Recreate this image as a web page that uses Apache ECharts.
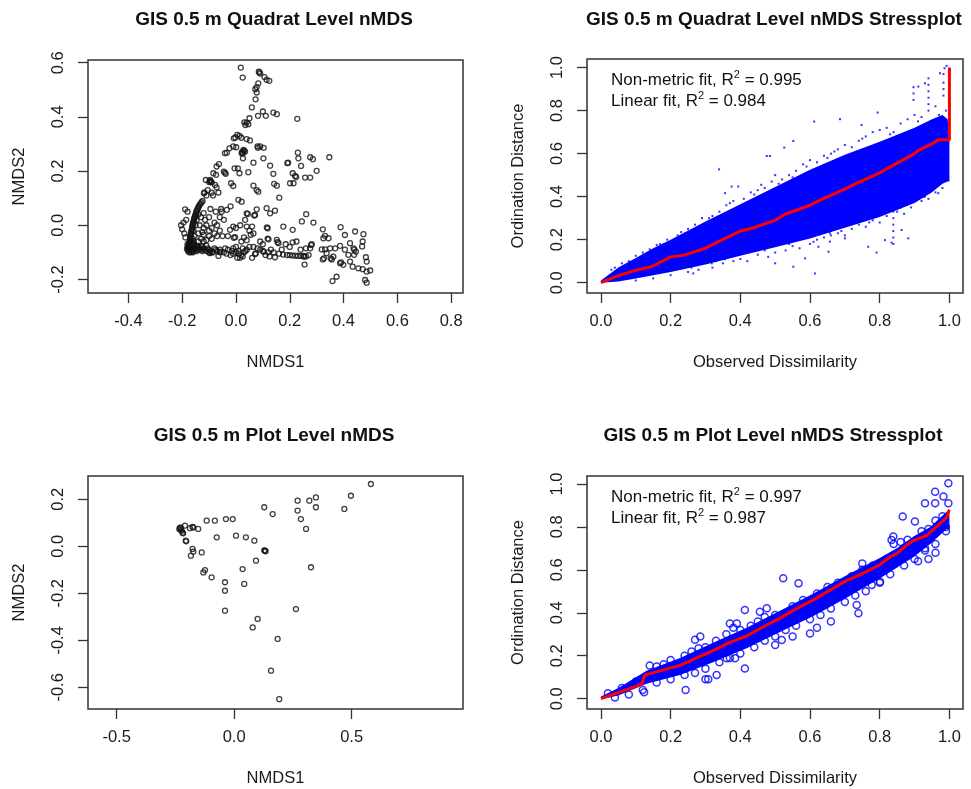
<!DOCTYPE html>
<html><head><meta charset="utf-8">
<script src="https://cdn.jsdelivr.net/npm/echarts@6/dist/echarts.min.js"></script>
<style>html,body{margin:0;padding:0;background:#fff}#c{width:971px;height:789px}</style>
</head><body><div id="c"></div>
<script>
// ---------- Titles / labels ----------
const titles = ["GIS 0.5 m Quadrat Level nMDS","GIS 0.5 m Quadrat Level nMDS Stressplot","GIS 0.5 m Plot Level nMDS","GIS 0.5 m Plot Level nMDS Stressplot"];
const fitQuadrat = ["0.995","0.984"];
const fitPlot = ["0.997","0.987"];

// ---------- Tick values ----------
const ticksX0 = [-0.4,-0.2,0,0.2,0.4,0.6,0.8];
const ticksY0 = [-0.2,0,0.2,0.4,0.6];
const ticksX2 = [-0.5,0,0.5];
const ticksY2 = [-0.6,-0.4,-0.2,0,0.2];
const ticksStress = [0,0.2,0.4,0.6,0.8,1.0];

// ---------- Panel 1: quadrat-level site scores (NMDS1, NMDS2) ----------
const quadratSites = [
[0.018,0.582],[0.025,0.545],[0.087,0.564],[0.09,0.56],[0.085,0.567],[0.106,0.547],[0.114,0.537],[0.124,0.533],[0.083,0.524],[0.077,0.510],[0.072,0.502],[0.077,0.490],[0.073,0.465],[0.059,0.435],[0.100,0.420],[0.111,0.404],[0.139,0.416],[0.152,0.410],[0.050,0.395],[0.040,0.379],[0.046,0.373],[0.031,0.380],[0.228,0.393],[0.082,0.404],[0.035,0.37],
[-0.002,0.324],[0.005,0.334],[0.013,0.330],[0.020,0.323],[0.040,0.318],[0.052,0.313],[-0.008,0.321],[0.080,0.291],[0.090,0.291],[0.034,0.272],[0.030,0.275],[0.026,0.266],[0.021,0.266],[0.028,0.278],[0.023,0.271],[-0.010,0.291],[-0.024,0.284],[-0.041,0.266],[-0.034,0.268],[0.001,0.288],[0.103,0.286],[0.082,0.286],[0.026,0.247],
[0.065,0.231],[0.102,0.247],[0.127,0.220],[0.139,0.190],[0.046,0.196],[0.007,0.210],[-0.005,0.210],[0.013,0.192],[-0.063,0.226],[-0.072,0.217],[-0.084,0.192],[-0.074,0.186],[-0.041,0.194],[-0.045,0.198],[-0.038,0.19],[0.191,0.229],[0.230,0.268],[0.232,0.247],[0.242,0.219],[0.276,0.251],[0.286,0.244],[0.300,0.201],[0.276,0.176],[0.257,0.176],[0.220,0.182],[0.224,0.178],[0.211,0.192],[0.214,0.155],[0.201,0.155],[0.347,0.251],[0.194,0.231],
[-0.096,0.167],[-0.099,0.159],[-0.112,0.167],[-0.093,0.161],[-0.097,0.163],[-0.090,0.158],[-0.119,0.118],[-0.117,0.121],[-0.078,0.149],[-0.072,0.140],[-0.065,0.121],[-0.018,0.155],[-0.010,0.145],[0.065,0.146],[0.077,0.130],[0.083,0.124],[0.142,0.153],[0.152,0.146],[0.161,0.102],[-0.105,0.13],[-0.11,0.11],[-0.09,0.12],[-0.085,0.11],
[-0.128,0.085],[-0.124,0.09],[-0.135,0.075],[-0.14,0.065],[-0.145,0.055],[-0.148,0.045],[-0.152,0.035],[-0.155,0.025],[-0.157,0.015],[-0.16,0.005],[-0.162,-0.005],[-0.164,-0.015],[-0.166,-0.025],[-0.168,-0.035],[-0.170,-0.045],[-0.171,-0.055],[-0.173,-0.065],[-0.175,-0.075],[-0.176,-0.085],[-0.172,-0.09],[-0.165,-0.085],[-0.16,-0.075],[-0.155,-0.07],[-0.15,-0.08],[-0.145,-0.075],[-0.17,-0.07],[-0.165,-0.06],[-0.16,-0.05],[-0.18,-0.08],[-0.178,-0.095],[-0.168,-0.1],[-0.158,-0.095],[-0.15,-0.09],[-0.158,-0.02],[-0.154,-0.04],[-0.15,0.0],[-0.146,0.02],[-0.14,0.04],
[-0.131,0.08],[-0.138,0.07],[-0.142,0.06],[-0.147,0.05],[-0.15,0.04],[-0.153,0.03],[-0.156,0.02],[-0.159,0.01],[-0.161,0.0],[-0.163,-0.01],[-0.165,-0.02],[-0.167,-0.03],[-0.169,-0.04],[-0.17,-0.05],[-0.172,-0.06],[-0.174,-0.07],[-0.176,-0.08],[-0.177,-0.09],[-0.168,-0.08],[-0.162,-0.065],[-0.158,-0.06],[-0.156,-0.085],[-0.163,-0.095],[-0.17,-0.085],[-0.174,-0.1],[-0.18,-0.07],[-0.182,-0.088],[-0.145,-0.095],[-0.14,-0.08],[-0.135,-0.085],[-0.125,-0.095],[-0.118,-0.09],[-0.105,-0.085],[-0.095,-0.095],[-0.085,-0.1],[-0.075,-0.09],[-0.045,-0.1],[-0.035,-0.105],[-0.01,-0.105],[0.01,-0.105],[0.035,-0.095],
[-0.204,0.0],[-0.2,-0.015],[-0.192,-0.03],[-0.189,0.059],[-0.18,0.05],[-0.185,0.02],[-0.195,0.01],[-0.188,-0.045],
[-0.13,0.03],[-0.12,0.045],[-0.115,0.02],[-0.1,0.03],[-0.11,0.0],[-0.12,-0.01],[-0.1,-0.02],[-0.09,-0.01],[-0.08,0.01],[-0.07,0.0],[-0.06,-0.02],[-0.08,-0.03],[-0.1,-0.04],[-0.12,-0.035],[-0.13,-0.05],[-0.11,-0.055],[-0.09,-0.05],[-0.07,-0.04],[-0.05,-0.04],[-0.03,-0.04],[-0.003,-0.044],[-0.008,-0.046],[-0.135,0.0],[-0.125,-0.025],[-0.14,-0.03],[-0.095,0.06],[-0.075,0.05],[-0.055,0.06],[-0.053,0.05],[-0.034,0.057],[-0.06,0.03],[-0.045,0.02],[0.009,0.094],[0.021,0.087],[-0.02,0.07],
[0.034,0.02],[0.04,0.044],[0.044,0.042],[0.071,0.038],[0.068,0.036],[0.077,0.059],[0.114,0.063],[0.127,0.044],[0.145,0.054],[0.118,-0.011],[0.115,-0.008],[0.176,-0.005],[0.152,-0.054],[0.121,-0.052],[0.118,-0.049],[0.158,-0.066],[0.155,-0.062],[0.211,-0.017],[0.211,-0.063],[0.245,0.014],[0.261,0.041],[0.288,0.01],[0.279,-0.073],[0.282,-0.07],[0.276,-0.085],[-0.022,-0.017],[-0.01,-0.005],[0.04,-0.005],[0.05,-0.02],[0.06,-0.005],[0.055,-0.035],[0.065,-0.03],[0.04,-0.055],[0.03,-0.045],[0.02,-0.06],[0.025,-0.085],[0.065,-0.08],[0.08,-0.085],[0.06,-0.12],[0.09,-0.06],[0.1,-0.07],[0.185,-0.07],[0.2,-0.08],[0.17,-0.09],[0.225,-0.06],[0.24,-0.09],[0.26,-0.085],[0.016,0.0],[0.0,-0.01],
[-0.15,-0.085],[-0.14,-0.09],[-0.13,-0.075],[-0.12,-0.085],[-0.11,-0.095],[-0.10,-0.09],[-0.1,-0.1],[-0.097,-0.103],[-0.09,-0.1],[-0.08,-0.085],[-0.07,-0.095],[-0.06,-0.09],[-0.06,-0.1],[-0.057,-0.098],[-0.065,-0.113],[-0.03,-0.09],[-0.02,-0.11],[0.0,-0.1],[0.01,-0.095],[0.02,-0.11],[0.03,-0.1],[0.04,-0.09],[0.05,-0.08],[0.005,-0.12],[0.015,-0.12],[0.025,-0.115],[-0.01,-0.085],[-0.015,-0.095],[0.0,-0.08],[-0.04,-0.085],[-0.13,-0.09],[-0.125,-0.08],[-0.16,-0.09],[-0.14,-0.06],[-0.12,-0.06],[-0.11,-0.075],[-0.16,-0.1],
[0.071,-0.106],[0.074,-0.104],[0.09,-0.09],[0.1,-0.095],[0.103,-0.098],[0.11,-0.11],[0.12,-0.1],[0.125,-0.115],[0.13,-0.09],[0.14,-0.1],[0.145,-0.118],[0.16,-0.105],[0.175,-0.108],[0.19,-0.11],[0.2,-0.11],[0.21,-0.112],[0.22,-0.112],[0.23,-0.113],[0.24,-0.113],[0.25,-0.113],[0.253,-0.116],[0.26,-0.115],[0.27,-0.11],[0.255,-0.145],
[0.323,-0.015],[0.331,-0.039],[0.344,-0.048],[0.325,-0.048],[0.389,-0.007],[0.405,-0.036],[0.443,-0.023],[0.474,-0.033],[0.471,-0.06],[0.424,-0.066],[0.387,-0.076],[0.369,-0.085],[0.350,-0.085],[0.331,-0.089],[0.319,-0.089],[0.337,-0.103],[0.323,-0.126],[0.327,-0.122],[0.356,-0.126],[0.352,-0.122],[0.362,-0.116],[0.387,-0.140],[0.391,-0.137],[0.399,-0.146],[0.437,-0.085],[0.440,-0.09],[0.446,-0.097],[0.439,-0.109],[0.418,-0.109],[0.424,-0.134],[0.434,-0.153],[0.455,-0.159],[0.471,-0.162],[0.483,-0.118],[0.486,-0.134],[0.499,-0.167],[0.486,-0.171],[0.480,-0.202],[0.486,-0.212],[0.374,-0.190],[0.359,-0.206],[0.469,-0.078],[0.405,-0.090]
];

// ---------- Panel 3: plot-level site scores ----------
const plotSites = [
[0.582,0.265],[0.497,0.215],[0.469,0.159],[0.348,0.208],[0.348,0.166],[0.320,0.194],[0.270,0.194],[0.270,0.152],[0.284,0.116],[0.306,0.074],[0.327,-0.089],
[0.128,0.166],[0.164,0.137],[-0.117,0.109],[-0.082,0.109],[-0.035,0.116],[-0.006,0.116],[-0.074,0.038],[0.008,0.045],[0.050,0.038],[0.086,0.024],
[0.131,-0.019],[0.128,-0.017],[0.134,-0.021],[0.093,-0.061],[0.036,-0.097],[0.043,-0.160],[-0.039,-0.153],[-0.039,-0.189],[-0.039,-0.274],[-0.096,-0.132],[-0.131,-0.111],[-0.124,-0.101],[-0.138,-0.026],[-0.177,-0.011],[-0.174,-0.023],[-0.184,-0.040],
[0.263,-0.267],[0.100,-0.309],[0.079,-0.345],[0.185,-0.394],[0.157,-0.529],[0.192,-0.650],
[-0.231,0.077],[-0.233,0.073],[-0.228,0.08],[-0.223,0.066],[-0.226,0.07],[-0.217,0.055],[-0.22,0.058],[-0.206,0.024],[-0.204,0.021],[-0.177,0.083],[-0.174,0.08],[-0.209,0.088],[-0.188,0.077],[-0.153,0.074]
];

// ---------- Panel 2: quadrat stressplot ----------
const bandX2  = [0, 0.05, 0.1, 0.15, 0.2, 0.3, 0.4, 0.5, 0.6, 0.7, 0.8, 0.9, 0.95, 0.98, 0.995, 1.0];
const bandHi2 = [0.01, 0.07, 0.115, 0.16, 0.2, 0.285, 0.365, 0.445, 0.525, 0.595, 0.655, 0.72, 0.76, 0.78, 0.76, 0.66];
const bandLo2 = [0, 0.005, 0.02, 0.035, 0.05, 0.085, 0.125, 0.165, 0.205, 0.255, 0.305, 0.37, 0.42, 0.46, 0.47, 0.47];
const stressDots2 = [
[0.03,0.06],[0.06,0.09],[0.08,0.1],[0.12,0.14],[0.14,0.155],[0.17,0.18],[0.19,0.2],[0.22,0.22],[0.25,0.25],[0.27,0.27],[0.29,0.3],[0.32,0.31],[0.34,0.33],[0.36,0.36],[0.38,0.38],[0.41,0.39],[0.43,0.42],[0.45,0.43],[0.47,0.44],[0.49,0.47],[0.5,0.5],[0.52,0.48],[0.54,0.5],[0.56,0.52],[0.58,0.55],[0.6,0.57],[0.62,0.56],[0.64,0.59],[0.66,0.6],[0.68,0.62],[0.7,0.64],[0.72,0.63],[0.74,0.66],[0.76,0.68],[0.78,0.7],[0.8,0.71],[0.82,0.72],[0.84,0.7],[0.86,0.74],[0.88,0.76],[0.9,0.78],[0.92,0.77],[0.94,0.8],[0.96,0.82],[0.97,0.78],[0.99,0.8],
[0.04,0.07],[0.1,0.125],[0.16,0.175],[0.23,0.235],[0.31,0.3],[0.37,0.37],[0.44,0.41],[0.51,0.46],[0.59,0.54],[0.67,0.61],[0.75,0.67],[0.83,0.69],[0.91,0.75],[0.65,0.58],[0.55,0.49],[0.46,0.455],
[0.1,0.01],[0.15,0.02],[0.2,0.035],[0.25,0.05],[0.28,0.06],[0.32,0.07],[0.35,0.09],[0.38,0.1],[0.42,0.1],[0.45,0.13],[0.48,0.12],[0.5,0.14],[0.53,0.15],[0.55,0.17],[0.57,0.16],[0.6,0.18],[0.62,0.2],[0.64,0.21],[0.66,0.22],[0.68,0.23],[0.7,0.22],[0.72,0.25],[0.74,0.27],[0.76,0.26],[0.78,0.29],[0.8,0.28],[0.82,0.31],[0.85,0.33],[0.87,0.32],[0.89,0.35],[0.92,0.38],[0.94,0.39],[0.96,0.42],[0.98,0.44],
[0.26,0.07],[0.33,0.1],[0.4,0.11],[0.47,0.15],[0.54,0.18],[0.61,0.19],[0.69,0.24],[0.77,0.28],[0.86,0.35],[0.93,0.4],
[0.339,0.527],[0.476,0.589],[0.485,0.589],[0.526,0.628],[0.552,0.659],[0.612,0.749],[0.686,0.76],[0.748,0.733],[0.794,0.791],[0.911,0.912],[0.93,0.927],[0.973,0.974],[0.986,0.997],[0.992,1.008],
[0.375,0.447],[0.394,0.447],[0.356,0.416],[0.241,0.229],[0.265,0.043],[0.318,0.09],[0.356,0.109],[0.5,0.09],[0.552,0.074],[0.614,0.043],
[0.586,0.113],[0.624,0.167],[0.653,0.144],[0.657,0.191],[0.7,0.206],[0.767,0.167],[0.791,0.14],[0.815,0.198],[0.863,0.245],[0.882,0.206],[0.834,0.186],[0.925,0.4],[0.968,0.416],[0.988,0.478],
[0.839,0.45],[0.839,0.42],[0.839,0.39],[0.839,0.36],[0.839,0.33],[0.839,0.3],[0.839,0.27],[0.839,0.24],[0.839,0.21],[0.839,0.18],
[0.657,0.32],[0.657,0.29],[0.657,0.26],[0.657,0.23],
[0.94,0.95],[0.94,0.92],[0.94,0.89],[0.94,0.86],[0.94,0.83],[0.983,0.97],[0.983,0.93],[0.983,0.9],[0.983,0.87],[0.897,0.909],[0.897,0.88],[0.897,0.85]
];
const fitX2 = [0, 0.05, 0.1, 0.145, 0.2, 0.241, 0.3, 0.337, 0.4, 0.433, 0.5, 0.528, 0.6, 0.624, 0.7, 0.72, 0.8, 0.815, 0.9, 0.911, 0.95, 0.968, 1.0, 1.0];
const fitY2 = [0, 0.033, 0.058, 0.074, 0.12, 0.129, 0.16, 0.191, 0.24, 0.253, 0.29, 0.318, 0.36, 0.38, 0.435, 0.452, 0.51, 0.525, 0.6, 0.615, 0.645, 0.664, 0.665, 1.0];

// ---------- Panel 4: plot stressplot ----------
const bandX4  = [0, 0.05, 0.131, 0.227, 0.322, 0.418, 0.514, 0.61, 0.705, 0.8, 0.849, 0.897, 0.945, 0.992, 1.0];
const bandHi4 = [0.01, 0.05, 0.13, 0.19, 0.26, 0.33, 0.41, 0.49, 0.575, 0.655, 0.70, 0.755, 0.80, 0.87, 0.87];
const bandLo4 = [-0.003, 0.015, 0.07, 0.11, 0.17, 0.235, 0.31, 0.385, 0.47, 0.56, 0.61, 0.66, 0.72, 0.79, 0.79];
const stressCircles4 = [
[0.02,0.025],[0.06,0.05],[0.1,0.08],[0.14,0.155],[0.16,0.15],[0.18,0.16],[0.2,0.18],[0.24,0.2],[0.26,0.22],[0.28,0.235],[0.3,0.24],[0.33,0.27],[0.36,0.3],[0.38,0.33],[0.4,0.32],[0.43,0.34],[0.45,0.36],[0.47,0.38],[0.5,0.39],[0.55,0.43],[0.58,0.46],[0.62,0.49],[0.65,0.52],[0.68,0.54],[0.72,0.57],[0.75,0.6],[0.78,0.62],[0.82,0.65],[0.84,0.72],[0.86,0.73],[0.88,0.74],[0.92,0.78],[0.94,0.79],[0.96,0.83],[0.98,0.85],
[0.04,0.005],[0.08,0.02],[0.12,0.04],[0.16,0.075],[0.2,0.09],[0.24,0.11],[0.27,0.12],[0.3,0.14],[0.34,0.17],[0.37,0.19],[0.4,0.21],[0.44,0.24],[0.47,0.27],[0.5,0.29],[0.53,0.32],[0.56,0.34],[0.6,0.37],[0.63,0.39],[0.66,0.42],[0.7,0.45],[0.73,0.48],[0.76,0.5],[0.8,0.54],[0.83,0.58],[0.87,0.62],[0.9,0.65],[0.93,0.69],[0.96,0.72],[0.99,0.78],[0.99,0.8],
[0.997,1.003],[0.959,0.964],[0.930,0.910],[0.959,0.910],[0.983,0.941],[0.997,0.91],[0.866,0.848],[0.901,0.825],[0.839,0.755],[0.834,0.739],[0.777,0.53],[0.801,0.545],[0.806,0.592],[0.734,0.436],[0.739,0.398],[0.523,0.561],[0.567,0.537],[0.6,0.304],[0.5,0.25],[0.519,0.273],[0.476,0.421],[0.456,0.405],[0.413,0.413],[0.413,0.141],[0.332,0.11],[0.3,0.09],[0.308,0.09],[0.243,0.04],[0.385,0.188],[0.361,0.188],[0.27,0.275],[0.285,0.29],[0.37,0.35],[0.39,0.35],[0.124,0.03],[0.93,0.7],[0.94,0.65],[0.96,0.68],[0.91,0.64],[0.66,0.36],[0.62,0.33],[0.55,0.29],[0.64,0.48],[0.7,0.53],[0.75,0.63]
];
const fitX4 = [0,0.035,0.084,0.117,0.126,0.179,0.227,0.275,0.323,0.37,0.418,0.466,0.514,0.562,0.61,0.657,0.705,0.753,0.801,0.83,0.849,0.877,0.896,0.935,0.955,0.973,0.993,0.997,1.0];
const fitY4 = [0,0.02,0.048,0.068,0.11,0.134,0.155,0.19,0.225,0.262,0.292,0.335,0.375,0.42,0.46,0.505,0.55,0.585,0.625,0.66,0.675,0.715,0.735,0.76,0.79,0.815,0.845,0.87,0.88];

// ---------- Build chart ----------
const FONT = '"Liberation Sans", Arial, sans-serif';
const TXT = '#1a1a1a';
const fmt = v => (Math.abs(v) < 1e-9 ? 0 : v).toFixed(1);
const zip = (a, b) => a.map((v, i) => [v, b[i]]);

function xAx(gi, min, max, ticks, name) {
  return { type: 'value', gridIndex: gi, min, max,
    axisLine: { show: false, onZero: false }, splitLine: { show: false },
    axisTick: { show: true, customValues: ticks, length: 10, lineStyle: { color: '#333', width: 1.3 } },
    axisLabel: { customValues: ticks, formatter: fmt, fontSize: 16.5, color: TXT, fontFamily: FONT, margin: 20 },
    name, nameLocation: 'middle', nameGap: 61,
    nameTextStyle: { fontSize: 16.5, color: TXT, fontFamily: FONT } };
}
function yAx(gi, min, max, ticks, name) {
  return { type: 'value', gridIndex: gi, min, max,
    axisLine: { show: false, onZero: false }, splitLine: { show: false },
    axisTick: { show: true, customValues: ticks, length: 10, lineStyle: { color: '#333', width: 1.3 } },
    axisLabel: { customValues: ticks, formatter: fmt, rotate: 90, fontSize: 16.5, color: TXT, fontFamily: FONT, margin: 21 },
    name, nameLocation: 'middle', nameGap: 60, nameRotate: 90,
    nameTextStyle: { fontSize: 16.5, color: TXT, fontFamily: FONT } };
}
const gridBase = { show: true, borderColor: '#333', borderWidth: 1.5, backgroundColor: 'transparent', containLabel: false };

function bandSeries(ai, bx, hi, lo) {
  return { type: 'custom', xAxisIndex: ai, yAxisIndex: ai, z: 1, silent: true, clip: true,
    data: [[bx[0], lo[0]]],
    renderItem: (params, api) => {
      const pts = [];
      for (let i = 0; i < bx.length; i++) pts.push(api.coord([bx[i], hi[i]]));
      for (let i = bx.length - 1; i >= 0; i--) pts.push(api.coord([bx[i], lo[i]]));
      return { type: 'polygon', shape: { points: pts }, style: { fill: '#0000ff' } };
    } };
}

function fitText(x, y, label, val) {
  return { type: 'text', x, y, z: 100,
    style: { text: '{a|' + label + ', R}{s|2}{a| = ' + val + '}', fill: '#111', verticalAlign: 'middle', align: 'left',
      rich: { a: { fontSize: 17, fontFamily: FONT, fill: '#111', lineHeight: 22 }, s: { fontSize: 11, fontFamily: FONT, fill: '#111', verticalAlign: 'top' } } } };
}
function titleText(x, y, t) {
  return { type: 'text', x, y, z: 100,
    style: { text: t, fontSize: 19, fontWeight: 'bold', fontFamily: FONT, fill: '#111', align: 'center', verticalAlign: 'middle' } };
}

const hollowBlack = { color: 'rgba(0,0,0,0)', borderColor: '#111', borderWidth: 1.3 };

const option = {
  animation: false,
  backgroundColor: '#fff',
  grid: [
    Object.assign({ left: 88, top: 60, width: 375, height: 233 }, gridBase),
    Object.assign({ left: 587, top: 59, width: 376, height: 234 }, gridBase),
    Object.assign({ left: 88, top: 476, width: 375, height: 233 }, gridBase),
    Object.assign({ left: 587, top: 476, width: 376, height: 233 }, gridBase)
  ],
  xAxis: [
    xAx(0, -0.55, 0.844, ticksX0, 'NMDS1'),
    xAx(1, -0.040, 1.039, ticksStress, 'Observed Dissimilarity'),
    xAx(2, -0.622, 0.974, ticksX2, 'NMDS1'),
    xAx(3, -0.040, 1.039, ticksStress, 'Observed Dissimilarity')
  ],
  yAxis: [
    yAx(0, -0.25, 0.61, ticksY0, 'NMDS2'),
    yAx(1, -0.048, 1.040, ticksStress, 'Ordination Distance'),
    yAx(2, -0.692, 0.299, ticksY2, 'NMDS2'),
    yAx(3, -0.048, 1.037, ticksStress, 'Ordination Distance')
  ],
  series: [
    { type: 'scatter', xAxisIndex: 0, yAxisIndex: 0, data: quadratSites, symbol: 'circle', symbolSize: 5, itemStyle: hollowBlack, silent: true, z: 3 },
    bandSeries(1, bandX2, bandHi2, bandLo2),
    { type: 'scatter', xAxisIndex: 1, yAxisIndex: 1, data: stressDots2, symbol: 'rect', symbolSize: 2, itemStyle: { color: '#0000ff' }, silent: true, z: 2 },
    { type: 'line', xAxisIndex: 1, yAxisIndex: 1, data: zip(fitX2, fitY2), showSymbol: false, lineStyle: { color: '#ff0000', width: 3 }, silent: true, z: 5 },
    { type: 'scatter', xAxisIndex: 2, yAxisIndex: 2, data: plotSites, symbol: 'circle', symbolSize: 5, itemStyle: hollowBlack, silent: true, z: 3 },
    bandSeries(3, bandX4, bandHi4, bandLo4),
    { type: 'scatter', xAxisIndex: 3, yAxisIndex: 3, data: stressCircles4, symbol: 'circle', symbolSize: 7, itemStyle: { color: 'rgba(0,0,0,0)', borderColor: '#0000ff', borderWidth: 1.5 }, silent: true, z: 2 },
    { type: 'line', xAxisIndex: 3, yAxisIndex: 3, data: zip(fitX4, fitY4), showSymbol: false, lineStyle: { color: '#ff0000', width: 3 }, silent: true, z: 5 }
  ],
  graphic: [
    titleText(274, 20, titles[0]),
    titleText(774, 20, titles[1]),
    titleText(274, 436, titles[2]),
    titleText(773, 436, titles[3]),
    fitText(611, 80, 'Non-metric fit', fitQuadrat[0]),
    fitText(611, 101, 'Linear fit', fitQuadrat[1]),
    fitText(611, 497, 'Non-metric fit', fitPlot[0]),
    fitText(611, 518, 'Linear fit', fitPlot[1])
  ]
};
const chart = echarts.init(document.getElementById('c'), null, { renderer: 'canvas' });
chart.setOption(option);
</script>
</body></html>
